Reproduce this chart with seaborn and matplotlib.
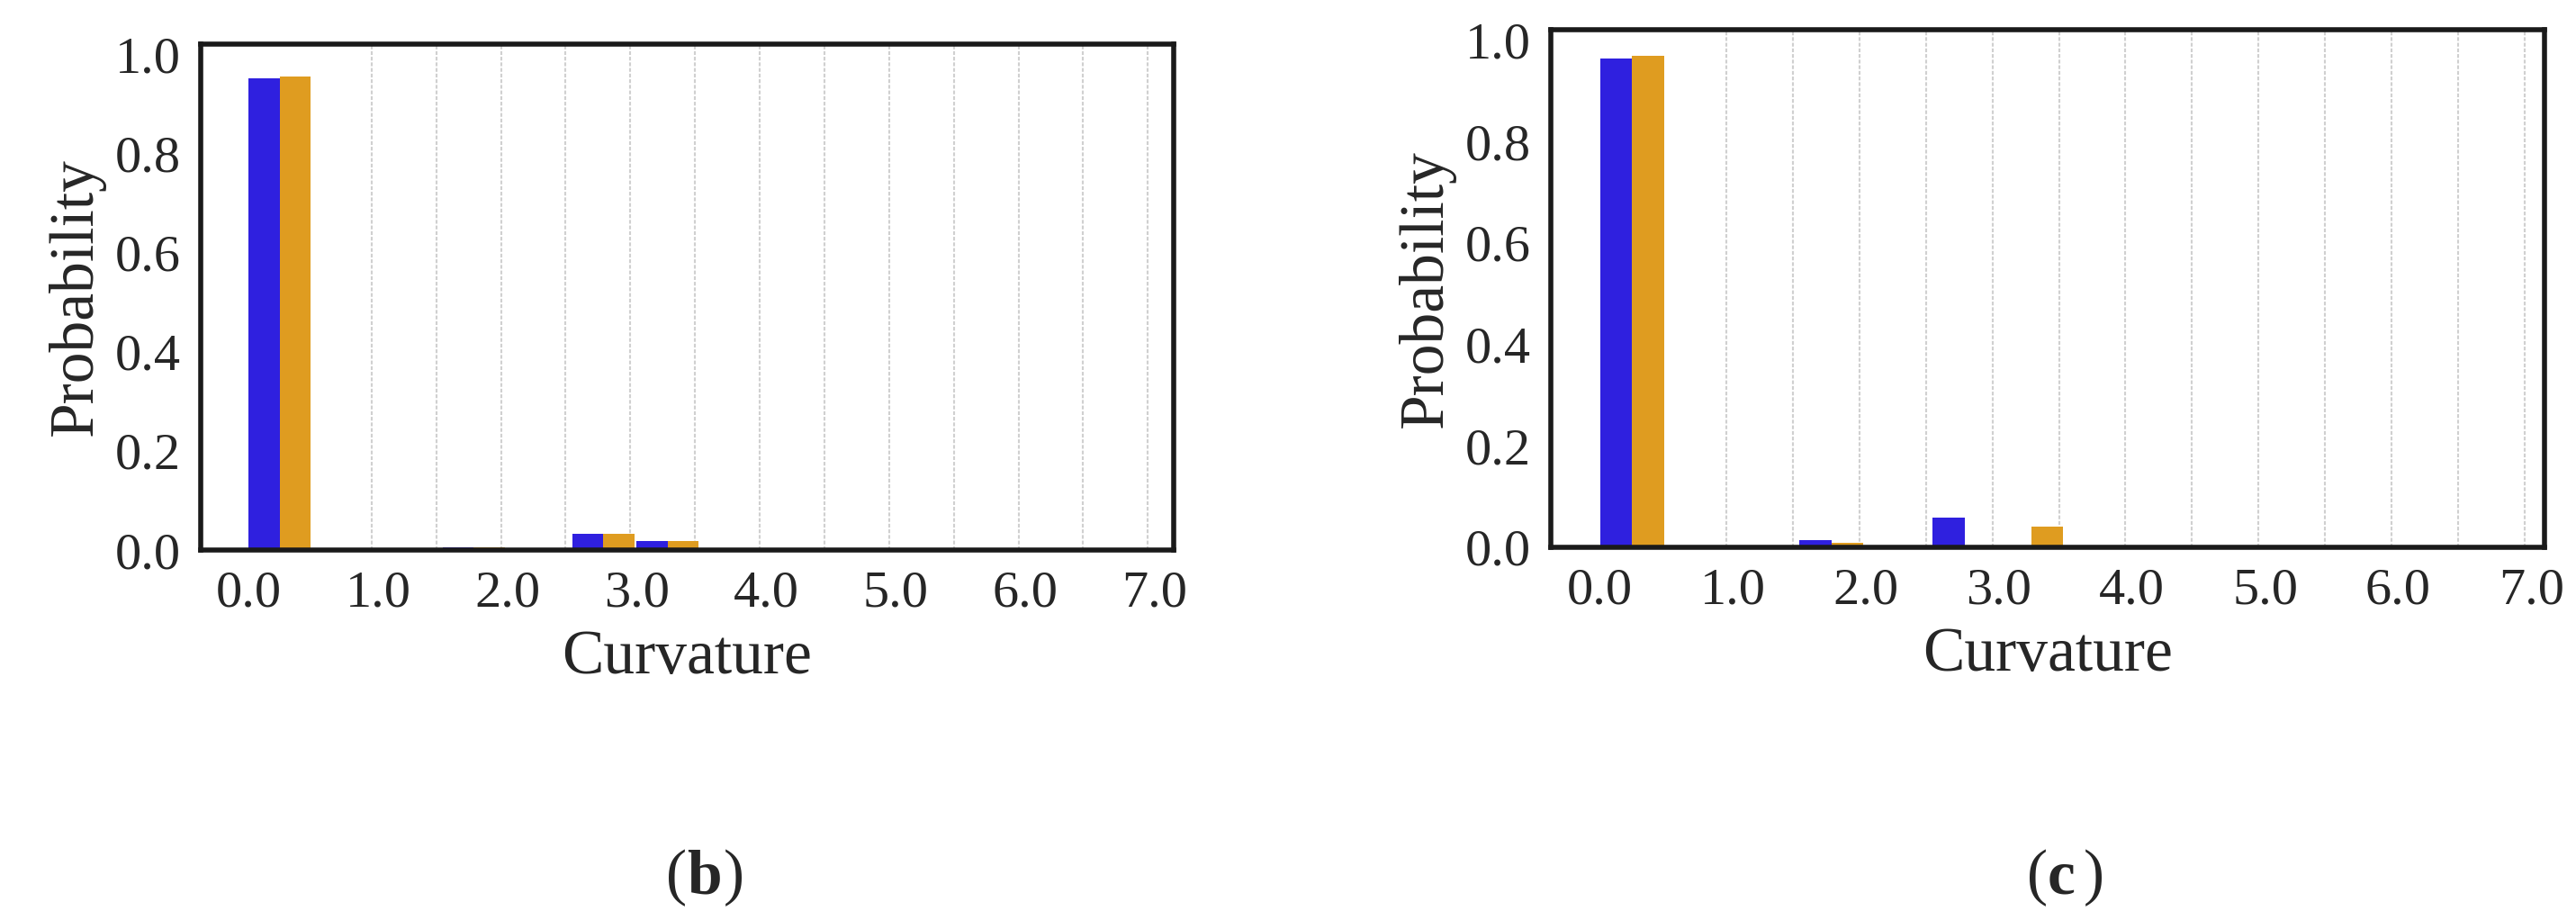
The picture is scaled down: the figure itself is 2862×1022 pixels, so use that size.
import pandas as pd
import matplotlib.pyplot as plt
import seaborn as sns

# curvature bins (left edge of each bin) and probabilities for the two series
bins = [0.0, 1.5, 2.5, 3.0]
b_blue = [0.951, 0.005, 0.033, 0.019]
b_orange = [0.955, 0.005, 0.033, 0.019]
c_blue = [0.963, 0.015, 0.058, 0.0]
c_orange = [0.968, 0.008, 0.0, 0.040]
xticks = [0, 1, 2, 3, 4, 5, 6, 7]
yticks = [0.0, 0.2, 0.4, 0.6, 0.8, 1.0]
colors = {'A': '#1400ff', 'B': '#ffa500'}

sns.set_style('white')
plt.rcParams['font.family'] = ['Liberation Serif', 'DejaVu Serif']

fig = plt.figure(figsize=(28.62, 10.22), dpi=100)
W, H = 2862, 1022
# axes boxes in pixels: left, top, right, bottom
boxes = [(223, 49, 1304, 611), (1723, 33, 2827, 608)]
xlims = [(-0.37, 7.15), (-0.37, 7.1)]
panels = [(b_blue, b_orange, '(b)'), (c_blue, c_orange, '(c)')]

for (l, t, r, b), xl, (blue, orange, tag) in zip(boxes, xlims, panels):
    ax = fig.add_axes([l / W, 1 - b / H, (r - l) / W, (b - t) / H])
    df = pd.DataFrame({
        'pos': [x + 0.24 for x in bins] * 2,
        'prob': blue + orange,
        'series': ['A'] * len(bins) + ['B'] * len(bins),
    })
    for g in [1 + 0.5 * i for i in range(13)]:
        ax.axvline(g - 0.05, color='#d0d0d0', lw=1.5, ls=(0, (2, 1)), zorder=0)
    sns.barplot(data=df, x='pos', y='prob', hue='series', palette=colors,
                native_scale=True, dodge=True, width=0.96, legend=False,
                edgecolor='none', ax=ax, zorder=2)
    ax.set_xlim(*xl)
    ax.set_ylim(0, 1.02)
    ax.set_xticks(xticks)
    ax.set_xticklabels([f'{v:.1f}' for v in xticks])
    ax.set_yticks(yticks)
    ax.set_yticklabels([f'{v:.1f}' for v in yticks])
    ax.tick_params(labelsize=42, length=4, width=1.5, pad=12)
    ax.set_xlabel('Curvature', fontsize=50, labelpad=10)
    ax.set_ylabel('Probability', fontsize=50, labelpad=8)
    for s in ax.spines.values():
        s.set_linewidth(4)
        s.set_color('#1a1a1a')
    cx = (l + r) / 2 / W
    fig.text(cx, 1 - 975 / H, tag[0], fontsize=50, ha='right', va='center')
    fig.text(cx, 1 - 975 / H, tag[1], fontsize=50, ha='left', va='center', fontweight='bold')
    fig.text(cx + 0.014, 1 - 975 / H, tag[2], fontsize=50, ha='left', va='center')

fig.savefig('out.png', dpi=100)
